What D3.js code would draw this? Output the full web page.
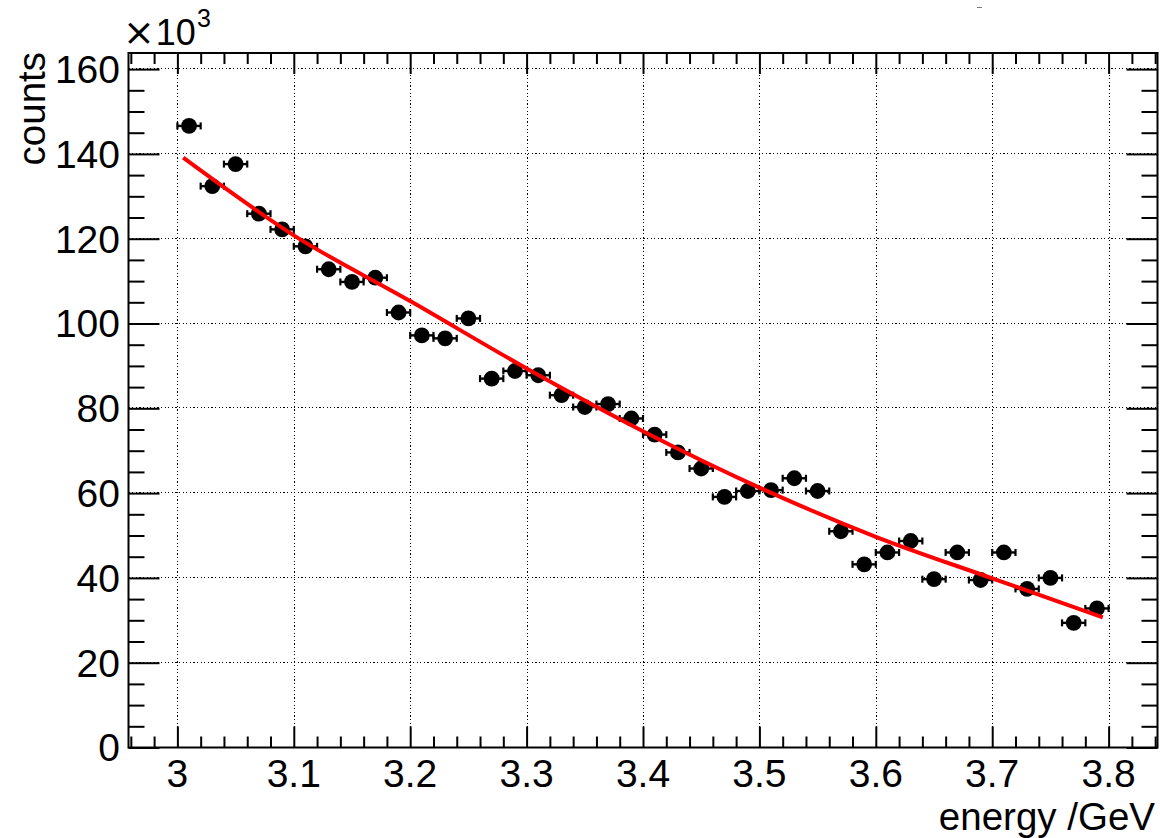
<!DOCTYPE html>
<html>
<head>
<meta charset="utf-8">
<script src="https://cdn.jsdelivr.net/npm/d3@7"></script>
<style>
  html, body { margin: 0; padding: 0; background: #fff; }
  svg { display: block; font-family: "Liberation Sans", Arial, Helvetica, sans-serif; }
</style>
</head>
<body>
<svg id="chart" width="1160" height="838"></svg>
<script>
// ---- data (counts in units of 10^3) ----
const energy = [3.01, 3.03, 3.05, 3.07, 3.09, 3.11, 3.13, 3.15, 3.17, 3.19,
                3.21, 3.23, 3.25, 3.27, 3.29, 3.31, 3.33, 3.35, 3.37, 3.39,
                3.41, 3.43, 3.45, 3.47, 3.49, 3.51, 3.53, 3.55, 3.57, 3.59,
                3.61, 3.63, 3.65, 3.67, 3.69, 3.71, 3.73, 3.75, 3.77, 3.79];
const counts = [146.6, 132.4, 137.6, 125.9, 122.2, 118.2, 112.8, 109.8, 110.8, 102.6,
                97.2, 96.5, 101.2, 87.0, 88.8, 87.8, 83.1, 80.3, 81.0, 77.6,
                73.8, 69.6, 65.8, 59.1, 60.5, 60.7, 63.5, 60.5, 51.0, 43.2,
                46.0, 48.7, 39.7, 46.0, 39.5, 46.0, 37.4, 40.0, 29.4, 32.8];
const binHalfWidth = 0.01;
// fit curve
const fitX = [3.005, 3.1, 3.2, 3.3, 3.4, 3.5, 3.6, 3.7, 3.795];
const fitY = [139.1, 120.8, 105.3, 89.4, 74.6, 61.3, 49.7, 39.9, 30.7];
// axis ticks
const xMajorTicks = [3, 3.1, 3.2, 3.3, 3.4, 3.5, 3.6, 3.7, 3.8];
const xTickLabels = ["3", "3.1", "3.2", "3.3", "3.4", "3.5", "3.6", "3.7", "3.8"];
const yMajorTicks = [0, 20, 40, 60, 80, 100, 120, 140, 160];
const yTickLabels = ["0", "20", "40", "60", "80", "100", "120", "140", "160"];
const xTitle = "energy /GeV";
const yTitle = "counts";

// ---- layout ----
const L = 128.5, R = 1157.5, T = 53, B = 747.5;
const x = d3.scaleLinear().domain([2.958, 3.842]).range([L, R]);
const y = d3.scaleLinear().domain([0, 163.8]).range([B, T]);

const svg = d3.select("#chart");
svg.append("rect").attr("width", 1160).attr("height", 838).attr("fill", "#fff");

const xMinor = d3.range(148, 193).map(i => i / 50).filter(v => v >= 2.958 && v <= 3.842 && !xMajorTicks.some(m => Math.abs(m - v) < 1e-6));
const yMinor = d3.range(0, 33).map(i => i * 5).filter(v => v <= 163.8 && v % 20 !== 0);

// ---- grid ----
const grid = svg.append("g").attr("stroke", "#000").attr("stroke-width", 1.2)
  .attr("stroke-dasharray", "1.2,2.4").attr("shape-rendering", "crispEdges");
grid.selectAll("line.gx").data(xMajorTicks).join("line").attr("class", "gx")
  .attr("x1", d => Math.round(x(d)) + 0.5).attr("x2", d => Math.round(x(d)) + 0.5)
  .attr("y1", T).attr("y2", B);
grid.selectAll("line.gy").data(yMajorTicks).join("line").attr("class", "gy")
  .attr("x1", L).attr("x2", R)
  .attr("y1", d => Math.round(y(d)) - 0.5).attr("y2", d => Math.round(y(d)) - 0.5);

// ---- axes (ticks inward) ----
function styleAxis(g) {
  g.select(".domain").remove();
  g.selectAll(".tick line").attr("stroke", "#000").attr("stroke-width", 2);
  g.selectAll(".tick text").remove();
}
const H = B - T, W = R - L;
svg.append("g").attr("transform", `translate(0,${B})`)
  .call(d3.axisBottom(x).tickValues(xMajorTicks).tickSize(-21)).call(styleAxis);
svg.append("g").attr("transform", `translate(0,${B})`)
  .call(d3.axisBottom(x).tickValues(xMinor).tickSize(-11)).call(styleAxis);
svg.append("g").attr("transform", `translate(0,${T})`)
  .call(d3.axisTop(x).tickValues(xMajorTicks).tickSize(-21)).call(styleAxis);
svg.append("g").attr("transform", `translate(0,${T})`)
  .call(d3.axisTop(x).tickValues(xMinor).tickSize(-11)).call(styleAxis);
svg.append("g").attr("transform", `translate(${L},0)`)
  .call(d3.axisLeft(y).tickValues(yMajorTicks).tickSize(-31)).call(styleAxis);
svg.append("g").attr("transform", `translate(${L},0)`)
  .call(d3.axisLeft(y).tickValues(yMinor).tickSize(-16)).call(styleAxis);
svg.append("g").attr("transform", `translate(${R},0)`)
  .call(d3.axisRight(y).tickValues(yMajorTicks).tickSize(-31)).call(styleAxis);
svg.append("g").attr("transform", `translate(${R},0)`)
  .call(d3.axisRight(y).tickValues(yMinor).tickSize(-16)).call(styleAxis);

// frame
svg.append("rect").attr("x", L).attr("y", T).attr("width", W).attr("height", H)
  .attr("fill", "none").attr("stroke", "#000").attr("stroke-width", 2);

// tick labels
svg.append("g").selectAll("text").data(xMajorTicks).join("text")
  .attr("x", d => x(d)).attr("y", 787).attr("text-anchor", "middle")
  .attr("font-size", 39).attr("fill", "#000")
  .text((d, i) => xTickLabels[i]);
svg.append("g").selectAll("text").data(yMajorTicks).join("text")
  .attr("x", 120).attr("y", d => y(d) + 13.8).attr("text-anchor", "end")
  .attr("font-size", 39).attr("fill", "#000")
  .text((d, i) => yTickLabels[i]);

// titles
svg.append("text").attr("x", 1155).attr("y", 830).attr("text-anchor", "end")
  .attr("font-size", 38.5).attr("fill", "#000").text(xTitle);
svg.append("text").attr("transform", "translate(45,52) rotate(-90)")
  .attr("text-anchor", "end").attr("font-size", 38.5).attr("fill", "#000").text(yTitle);
const exp = svg.append("text").attr("x", 123).attr("y", 45).attr("font-size", 36).attr("fill", "#000");
exp.append("tspan").attr("font-family", "DejaVu Sans").attr("font-size", 38).text("\u00d7");
exp.append("tspan").attr("dx", 1).text("10");
exp.append("tspan").attr("font-size", 25).attr("dx", 1).attr("dy", -18).text("3");

// tiny artifact at top
svg.append("line").attr("x1", 977).attr("x2", 982).attr("y1", 7.5).attr("y2", 7.5)
  .attr("stroke", "#777").attr("stroke-width", 1);

// ---- data points ----
const pts = energy.map((e, i) => ({ e, c: counts[i] }));
const pg = svg.append("g");
pg.selectAll("line.eb").data(pts).join("line").attr("class", "eb")
  .attr("x1", d => x(d.e - binHalfWidth)).attr("x2", d => x(d.e + binHalfWidth))
  .attr("y1", d => y(d.c)).attr("y2", d => y(d.c))
  .attr("stroke", "#000").attr("stroke-width", 2.4);
pg.selectAll("line.capL").data(pts).join("line").attr("class", "capL")
  .attr("x1", d => x(d.e - binHalfWidth)).attr("x2", d => x(d.e - binHalfWidth))
  .attr("y1", d => y(d.c) - 3.5).attr("y2", d => y(d.c) + 3.5)
  .attr("stroke", "#000").attr("stroke-width", 2.2);
pg.selectAll("line.capR").data(pts).join("line").attr("class", "capR")
  .attr("x1", d => x(d.e + binHalfWidth)).attr("x2", d => x(d.e + binHalfWidth))
  .attr("y1", d => y(d.c) - 3.5).attr("y2", d => y(d.c) + 3.5)
  .attr("stroke", "#000").attr("stroke-width", 2.2);
pg.selectAll("circle").data(pts).join("circle")
  .attr("cx", d => x(d.e)).attr("cy", d => y(d.c)).attr("r", 7.9).attr("fill", "#000");

// ---- fit curve ----
const fitPts = fitX.map((v, i) => [v, fitY[i]]);
svg.append("path").datum(fitPts)
  .attr("d", d3.line().x(d => x(d[0])).y(d => y(d[1])).curve(d3.curveMonotoneX))
  .attr("fill", "none").attr("stroke", "#ff0000").attr("stroke-width", 4);
</script>
</body>
</html>
